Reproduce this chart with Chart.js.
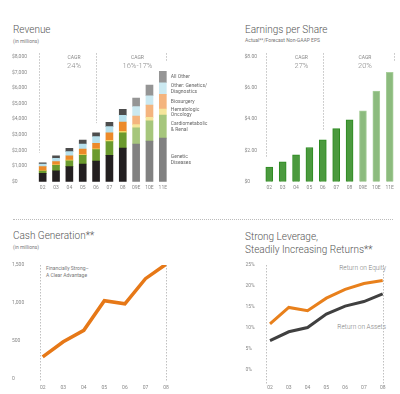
<!DOCTYPE html>
<html>
<head>
<meta charset="utf-8">
<script src="https://cdn.jsdelivr.net/npm/chart.js@4"></script>
<style>
  html, body { margin: 0; padding: 0; background: #fff; }
  body { width: 400px; height: 394px; position: relative; overflow: hidden; font-family: Roboto, "Liberation Sans", sans-serif; color: #555; }
  canvas { position: absolute; }
  .t { position: absolute; white-space: nowrap; line-height: 1; }
  .title { font-size: 10px; font-weight: 300; color: #555; }
  .small { font-size: 5px; color: #777; }
  .note { font-size: 6.5px; font-weight: 300; color: #808080; }
  .sep { position: absolute; left: 13px; top: 219px; width: 380px; border-top: 1px dotted #bbb; }
</style>
</head>
<body>
<div class="t title" style="left:13px;top:24.7px">Revenue</div>
<div class="t small" style="left:13px;top:39px">(in millions)</div>
<div class="t title" style="left:245px;top:24.7px">Earnings per Share</div>
<div class="t small" style="left:245px;top:38px">Actual**/Forecast Non-GAAP EPS</div>
<div class="sep"></div>
<div class="t title" style="left:13px;top:230.5px">Cash Generation**</div>
<div class="t small" style="left:13px;top:245px">(in millions)</div>
<div class="t title" style="left:245px;top:229.8px;line-height:13px">Strong Leverage,<br>Steadily Increasing Returns**</div>
<div class="t small" style="left:46px;top:264.5px;line-height:7.4px">Financially Strong–<br>A Clear Advantage</div>
<div class="t note" style="right:14px;top:265px">Return on Equity</div>
<div class="t note" style="right:14px;top:323.5px">Return on Assets</div>

<canvas id="rev" width="215" height="200" style="left:0;top:0"></canvas>
<canvas id="eps" width="200" height="200" style="left:200px;top:0"></canvas>
<canvas id="cash" width="200" height="194" style="left:0;top:200px"></canvas>
<canvas id="lev" width="200" height="194" style="left:200px;top:200px"></canvas>

<script>
// revenue, $ millions, stacked by business
const revYears = ["02", "03", "04", "05", "06", "07", "08", "09E", "10E", "11E"];
const geneticDiseases = [530, 700, 960, 1130, 1320, 1685, 2150, 2410, 2600, 2790];
const cardioRenal = [150, 345, 380, 555, 730, 875, 980, 1040, 1300, 1470];
const hemOncology = [20, 30, 40, 50, 60, 80, 90, 200, 220, 390];
const biosurgery = [260, 205, 280, 355, 340, 490, 600, 550, 780, 940];
const otherGenetics = [170, 210, 260, 320, 430, 390, 420, 600, 600, 740];
const allOther = [85, 170, 210, 255, 250, 280, 390, 550, 680, 730];

// earnings per share
const epsValues = [0.93, 1.27, 1.72, 2.19, 2.68, 3.40, 3.96, 4.53, 5.80, 7.00];

// cash generation, $ millions
const cashYears = ["02", "03", "04", "05", "06", "07", "08"];
const cashValues = [290, 490, 640, 1030, 990, 1320, 1510];

// returns, %
const roe = [11.0, 14.9, 14.1, 17.1, 19.2, 20.6, 21.3];
const roa = [7.0, 9.1, 10.1, 13.3, 15.2, 16.3, 18.1];

const tickFont = { family: "Roboto, 'Liberation Sans', sans-serif", size: 5 };
const tickColor = "#888";
const nActual = 7;

function shade(actual, forecast) {
  return revYears.map((y, i) => i < nActual ? actual : forecast);
}

// dashed guides + CAGR labels + side legend
const notes = {
  id: "notes",
  afterDatasetsDraw(chart, args, opts) {
    const { ctx, chartArea, scales: { x, y } } = chart;
    ctx.save();
    ctx.strokeStyle = "#b0b0b0";
    ctx.lineWidth = 0.8;
    ctx.setLineDash([1.5, 1.5]);
    (opts.lines || []).forEach(l => {
      const px = Math.round(x.getPixelForValue(l.at)) + 0.5;
      ctx.beginPath();
      ctx.moveTo(px, chartArea.top + (l.top || 0));
      ctx.lineTo(px, y.getPixelForValue(l.to));
      ctx.stroke();
    });
    ctx.setLineDash([]);
    ctx.fillStyle = "#888";
    ctx.textAlign = "center";
    ctx.textBaseline = "middle";
    (opts.cagr || []).forEach(c => {
      const px = x.getPixelForValue(c.at);
      ctx.font = "5px Roboto, sans-serif";
      ctx.fillText("CAGR", px, chartArea.top + 0.6);
      ctx.font = "300 7.5px Roboto, sans-serif";
      ctx.fillText(c.text, px, chartArea.top + 9.5);
    });
    if (opts.legend) {
      ctx.textAlign = "left";
      ctx.fillStyle = "#666";
      ctx.font = "5px Roboto, sans-serif";
      const last = revYears.length - 1;
      chart.data.datasets.forEach((ds, i) => {
        const el = chart.getDatasetMeta(i).data[last];
        const mid = (el.y + el.base) / 2;
        const lines = ds.label.split("\n");
        lines.forEach((t, k) => {
          ctx.fillText(t, el.x + 8, mid + (k - (lines.length - 1) / 2) * 5.6);
        });
      });
    }
    ctx.restore();
  }
};

function baseScales(xh, yw, xpad) {
  return {
    x: {
      grid: { display: false, drawTicks: false },
      border: { display: false },
      ticks: { color: tickColor, font: tickFont, padding: xpad, maxRotation: 0, autoSkip: false },
      afterFit: s => { s.height = xh; }
    },
    y: {
      grid: { display: false, drawTicks: false },
      border: { display: false },
      ticks: { color: tickColor, font: tickFont, crossAlign: "far", padding: 0 },
      afterFit: s => { s.width = yw; }
    }
  };
}

const common = {
  responsive: false,
  animation: false,
  plugins: { legend: { display: false }, tooltip: { enabled: false } }
};

// Revenue
const revScales = baseScales(18.3, 24, 3);
revScales.x.stacked = true;
revScales.y.stacked = true;
revScales.y.min = 0;
revScales.y.max = 8000;
revScales.y.ticks.stepSize = 1000;
revScales.y.ticks.callback = v => "$" + v.toLocaleString("en-US");

new Chart(document.getElementById("rev"), {
  type: "bar",
  data: {
    labels: revYears,
    datasets: [
      { label: "Genetic\nDiseases", data: geneticDiseases, backgroundColor: shade("#231f20", "#818181") },
      { label: "Cardiometabolic\n& Renal", data: cardioRenal, backgroundColor: shade("#6b9a2e", "#a6c67c") },
      { label: "Hematologic\nOncology", data: hemOncology, backgroundColor: shade("#f1d666", "#f5e59a") },
      { label: "Biosurgery", data: biosurgery, backgroundColor: shade("#ec8a2a", "#f4b47e") },
      { label: "Other: Genetics/\nDiagnostics", data: otherGenetics, backgroundColor: shade("#b7e0ec", "#cbe9f1") },
      { label: "All Other", data: allOther, backgroundColor: shade("#4d4d4d", "#959595") }
    ].map(d => Object.assign(d, { barThickness: 7, borderWidth: 0 }))
  },
  options: Object.assign({}, common, {
    layout: { padding: { left: 12, top: 56.7, right: 45.5, bottom: 0 } },
    scales: revScales,
    plugins: Object.assign({}, common.plugins, {
      notes: {
        lines: [{ at: -0.25, top: -3.5, to: 1850 }, { at: 4, top: -3.5, to: 3750 }, { at: 9.25, top: -3.5, to: 7650 }],
        cagr: [{ at: 2.35, text: "24%" }, { at: 7.1, text: "16%-17%" }],
        legend: true
      }
    })
  }),
  plugins: [notes]
});

// Earnings per share
const epsScales = baseScales(18.3, 18.1, 3);
epsScales.y.min = 0;
epsScales.y.max = 8;
epsScales.y.ticks.stepSize = 2;
epsScales.y.ticks.callback = v => v === 0 ? "$0" : "$" + v.toFixed(2);

new Chart(document.getElementById("eps"), {
  type: "bar",
  data: {
    labels: revYears,
    datasets: [{
      label: "EPS",
      data: epsValues,
      backgroundColor: revYears.map((y, i) => i < nActual ? "#4b9a3e" : "#8cbb7e"),
      borderColor: revYears.map((y, i) => i < nActual ? "#2c8a20" : "#a9cf9c"),
      borderWidth: 1,
      borderSkipped: "bottom",
      barThickness: 7
    }]
  },
  options: Object.assign({}, common, {
    layout: { padding: { left: 44.5, top: 56.7, right: 3.6, bottom: 0 } },
    scales: epsScales,
    plugins: Object.assign({}, common.plugins, {
      notes: {
        lines: [{ at: -0.25, top: -3.5, to: 1.5 }, { at: 4, top: -3.5, to: 3.25 }, { at: 9.3, top: -3.5, to: 7.65 }],
        cagr: [{ at: 2.4, text: "27%" }, { at: 7.15, text: "20%" }]
      }
    })
  }),
  plugins: [notes]
});

// Cash generation
const cashScales = baseScales(15, 30.7, 5.5);
cashScales.y.min = 0;
cashScales.y.max = 1500;
cashScales.y.ticks.stepSize = 500;
cashScales.y.ticks.callback = v => v.toLocaleString("en-US");

new Chart(document.getElementById("cash"), {
  type: "line",
  data: {
    labels: cashYears,
    datasets: [{
      label: "Cash Generation",
      data: cashValues,
      borderColor: "#e67817",
      borderWidth: 3.5,
      pointRadius: 0,
      tension: 0
    }]
  },
  options: Object.assign({}, common, {
    layout: { padding: { left: 12, top: 65, right: 34, bottom: 0 } },
    scales: cashScales,
    plugins: Object.assign({}, common.plugins, {
      notes: { lines: [{ at: -0.15, top: 0, to: -35 }, { at: 6, top: 0, to: -35 }] }
    })
  }),
  plugins: [notes]
});

// Returns
const levScales = baseScales(24, 24.5, 14.5);
levScales.y.min = 0;
levScales.y.max = 25;
levScales.y.ticks.stepSize = 5;
levScales.y.ticks.callback = v => v + "%";

new Chart(document.getElementById("lev"), {
  type: "line",
  data: {
    labels: cashYears,
    datasets: [
      { label: "Return on Equity", data: roe, borderColor: "#e8801c" },
      { label: "Return on Assets", data: roa, borderColor: "#404040" }
    ].map(d => Object.assign(d, { borderWidth: 3, pointRadius: 0, tension: 0 }))
  },
  options: Object.assign({}, common, {
    layout: { padding: { left: 45.5, top: 65, right: 7.3, bottom: 0 } },
    scales: levScales,
    plugins: Object.assign({}, common.plugins, {
      notes: { lines: [{ at: -0.2, top: 0, to: -3.6 }, { at: 6, top: 0, to: -3.6 }] }
    })
  }),
  plugins: [notes]
});
</script>
</body>
</html>
